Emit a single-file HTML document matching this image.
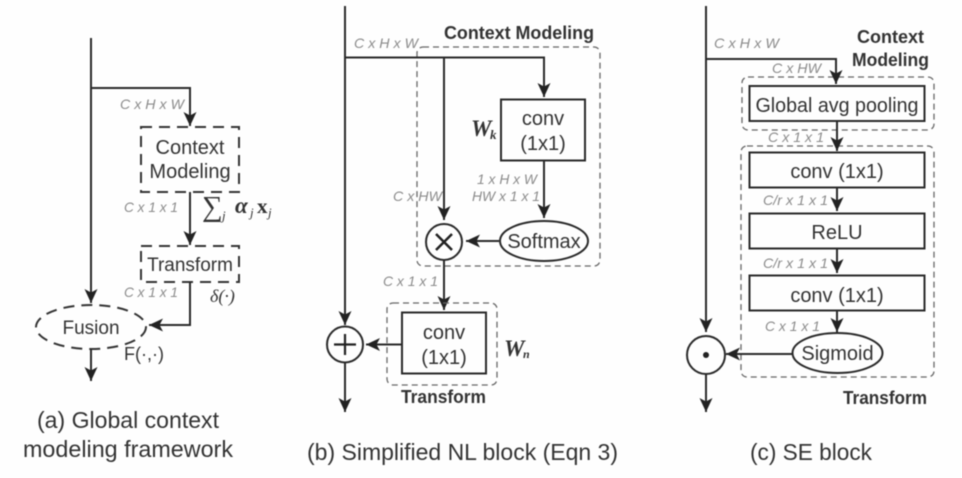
<!DOCTYPE html>
<html><head><meta charset="utf-8">
<style>
html,body{margin:0;padding:0;background:#fefefe;width:962px;height:478px;overflow:hidden}
svg{display:block;filter:blur(0.4px)}
text{font-family:"Liberation Sans",sans-serif;fill:#333}
.t{font-size:20px;text-anchor:middle}
.g{font-size:14px;font-style:italic;fill:#8a8a8a}
.b{font-size:18px;font-weight:bold;fill:#333}
.cap{font-size:23px;fill:#333}
.m{font-family:"Liberation Serif",serif;font-style:italic;fill:#333}
.l{stroke:#2a2a2a;stroke-width:2;fill:none}
.a{stroke:#2a2a2a;stroke-width:2;fill:none;marker-end:url(#h)}
.box{stroke:#2a2a2a;stroke-width:2;fill:#fefefe}
.d{stroke:#666;stroke-width:1.3;fill:none;stroke-dasharray:6 4}
.k{stroke:#333;stroke-width:2;fill:none;stroke-dasharray:11 7}
</style></head>
<body>
<svg width="962" height="478" viewBox="0 0 962 478" xmlns="http://www.w3.org/2000/svg">
<defs>
<marker id="h" markerUnits="userSpaceOnUse" markerWidth="16" markerHeight="16" refX="14" refY="7" orient="auto">
<path d="M0 0.5 L14 7 L0 13.5 L3.500 7 Z" fill="#222"/>
</marker>
</defs>

<!-- Panel a -->
<path class="a" d="M91 38 V303"/>
<path class="a" d="M91 88 H190 V126"/>
<rect class="k" x="141" y="127" width="98" height="65"/>
<text class="t" x="190" y="154">Context</text>
<text class="t" x="190" y="178">Modeling</text>
<path class="a" d="M190 192 V245"/>
<rect class="k" x="141" y="246" width="98" height="36"/>
<text class="t" x="190" y="271" style="font-size:19px">Transform</text>
<path class="a" d="M190 282 V325 H149"/>
<ellipse class="k" cx="91" cy="327" rx="55" ry="22"/>
<text class="t" x="91" y="334" style="font-size:19px">Fusion</text>
<path class="a" d="M91 349 V381"/>
<text x="124" y="360" style="font-size:18px">F(·,·)</text>
<text class="m" x="210" y="302" style="font-size:18px">δ(·)</text>
<text x="202" y="216" class="m" style="font-size:29px;font-style:normal">∑</text>
<text x="222" y="220" class="m" style="font-size:13px">j</text>
<text x="235" y="213" class="m" style="font-size:23px;font-weight:bold">α</text>
<text x="250" y="217" class="m" style="font-size:13px">j</text>
<text x="257" y="213" class="m" style="font-size:21px;font-weight:bold;font-style:normal">x</text>
<text x="268" y="217" class="m" style="font-size:13px">j</text>
<text class="g" x="120" y="109" textLength="64" lengthAdjust="spacingAndGlyphs">C x H x W</text>
<text class="g" x="124" y="212" textLength="54" lengthAdjust="spacingAndGlyphs">C x 1 x 1</text>
<text class="g" x="124" y="297" textLength="54" lengthAdjust="spacingAndGlyphs">C x 1 x 1</text>
<text class="cap" x="37" y="428" textLength="182" lengthAdjust="spacingAndGlyphs">(a) Global context</text>
<text class="cap" x="23" y="457" textLength="210" lengthAdjust="spacingAndGlyphs">modeling framework</text>

<!-- Panel b -->
<rect class="d" x="417" y="47" width="183" height="219" rx="6"/>
<path class="a" d="M345 6 V325"/>
<path class="a" d="M345 57.500 H544 V97"/>
<path class="a" d="M444 57.500 V220"/>
<rect class="box" x="501" y="99.500" width="84" height="61"/>
<text class="t" x="543" y="125">conv</text>
<text class="t" x="543" y="150">(1x1)</text>
<text class="m" x="471" y="136" style="font-size:23px;font-weight:bold">W</text>
<text class="m" x="490" y="139" style="font-size:13px;font-weight:bold">k</text>
<text class="g" x="354" y="48" textLength="64" lengthAdjust="spacingAndGlyphs">C x H x W</text>
<text class="g" x="477" y="184" textLength="60" lengthAdjust="spacingAndGlyphs">1 x H x W</text>
<text class="g" x="472" y="201" textLength="68" lengthAdjust="spacingAndGlyphs">HW x 1 x 1</text>
<text class="g" x="393" y="201" textLength="49" lengthAdjust="spacingAndGlyphs">C x HW</text>
<path class="a" d="M544 160 V218"/>
<ellipse class="box" cx="544" cy="241" rx="44" ry="20"/>
<text class="t" x="544" y="248">Softmax</text>
<path class="a" d="M499 241 H466"/>
<circle class="box" cx="444" cy="242" r="18"/>
<path d="M436 234 L452 250 M452 234 L436 250" stroke="#222" stroke-width="2.500" fill="none"/>
<path class="a" d="M444 260 V310"/>
<text class="g" x="383" y="286" textLength="55" lengthAdjust="spacingAndGlyphs">C x 1 x 1</text>
<rect class="d" x="387" y="303" width="110" height="82" rx="6"/>
<rect class="box" x="402" y="312.500" width="84" height="61"/>
<text class="t" x="444" y="339">conv</text>
<text class="t" x="444" y="364">(1x1)</text>
<text class="m" x="504" y="356" style="font-size:23px;font-weight:bold">W</text>
<text class="m" x="523" y="358" style="font-size:12px;font-weight:bold">n</text>
<path class="a" d="M402 344.500 H366"/>
<circle class="box" cx="345" cy="344.500" r="18"/>
<path d="M334 344.500 H356 M345 334 V355" stroke="#222" stroke-width="2.200" fill="none"/>
<path class="a" d="M345 363 V412"/>
<text class="b" x="444" y="39" textLength="150" lengthAdjust="spacingAndGlyphs">Context Modeling</text>
<text class="b" x="401" y="403" textLength="85" lengthAdjust="spacingAndGlyphs">Transform</text>
<text class="cap" x="307" y="460" textLength="311" lengthAdjust="spacingAndGlyphs">(b) Simplified NL block (Eqn 3)</text>

<!-- Panel c -->
<rect class="d" x="742" y="77" width="192" height="53" rx="6"/>
<rect class="d" x="741" y="146" width="193" height="231" rx="6"/>
<path class="a" d="M706 6 V332"/>
<path class="a" d="M706 59 H836 V84"/>
<rect class="box" x="749.500" y="86" width="175" height="35"/>
<text class="t" x="837" y="112" textLength="163" lengthAdjust="spacingAndGlyphs">Global avg pooling</text>
<path class="a" d="M837 121 V151"/>
<rect class="box" x="749.500" y="152.500" width="175" height="35"/>
<text class="t" x="837" y="178">conv (1x1)</text>
<path class="a" d="M837 187 V211"/>
<rect class="box" x="749.500" y="213.500" width="175" height="35"/>
<text class="t" x="837" y="239">ReLU</text>
<path class="a" d="M837 248 V273"/>
<rect class="box" x="749.500" y="275.500" width="175" height="35"/>
<text class="t" x="837" y="302">conv (1x1)</text>
<path class="a" d="M837 311 V332"/>
<ellipse class="box" cx="837.500" cy="353" rx="45" ry="20"/>
<text class="t" x="837.500" y="360">Sigmoid</text>
<path class="a" d="M792 354 H726"/>
<circle class="box" cx="706" cy="355" r="19"/>
<circle cx="706" cy="355" r="3" fill="#222"/>
<path class="a" d="M706 374 V412"/>
<text class="g" x="714" y="48" textLength="65" lengthAdjust="spacingAndGlyphs">C x H x W</text>
<text class="g" x="772" y="73" textLength="49" lengthAdjust="spacingAndGlyphs">C x HW</text>
<text class="g" x="768" y="142" textLength="56" lengthAdjust="spacingAndGlyphs">C x 1 x 1</text>
<text class="g" x="763" y="205" textLength="65" lengthAdjust="spacingAndGlyphs">C/r x 1 x 1</text>
<text class="g" x="763" y="268" textLength="65" lengthAdjust="spacingAndGlyphs">C/r x 1 x 1</text>
<text class="g" x="765" y="331" textLength="55" lengthAdjust="spacingAndGlyphs">C x 1 x 1</text>
<text class="b" x="857" y="43" textLength="67" lengthAdjust="spacingAndGlyphs">Context</text>
<text class="b" x="852" y="66" textLength="77" lengthAdjust="spacingAndGlyphs">Modeling</text>
<text class="b" x="843" y="404" textLength="84" lengthAdjust="spacingAndGlyphs">Transform</text>
<text class="cap" x="750" y="460" textLength="122" lengthAdjust="spacingAndGlyphs">(c) SE block</text>
</svg>
</body></html>
